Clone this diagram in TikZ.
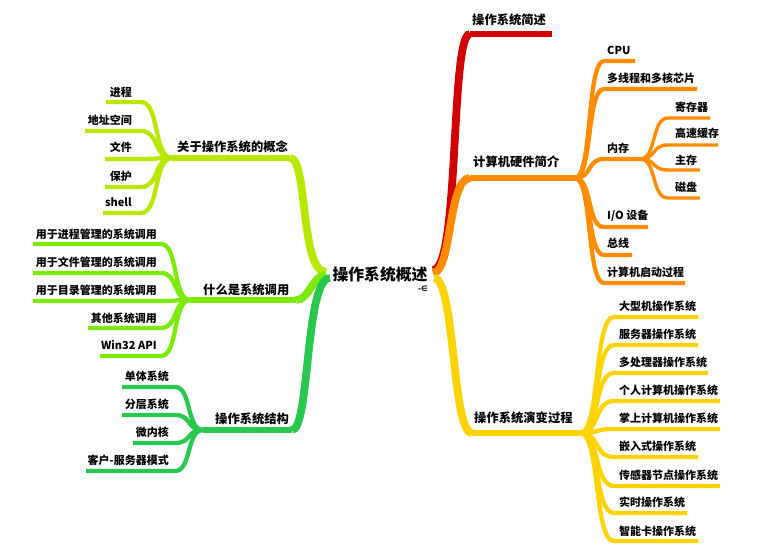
\documentclass[tikz,border=0pt]{standalone}
\usepackage{fontspec}
\setmainfont{Noto Sans CJK SC}
\newfontfamily\symfont{DejaVu Sans}
\usetikzlibrary{calc}
\definecolor{cRed}{RGB}{210,0,0}
\definecolor{cOrange}{RGB}{255,140,0}
\definecolor{cYellow}{RGB}{255,210,0}
\definecolor{cYG}{RGB}{185,232,0}
\definecolor{cLime}{RGB}{125,235,10}
\definecolor{cGreen}{RGB}{40,200,80}
\tikzset{
  kid/.style={to path={.. controls ($(\tikztostart)!0.6!(\tikztotarget|-\tikztostart)$) and ($(\tikztotarget)!0.6!(\tikztostart|-\tikztotarget)$) .. (\tikztotarget)}},
  leaf/.style={font=\bfseries\fontsize{11}{13}\selectfont, inner sep=0pt, text=black},
  branch/.style={font=\bfseries\fontsize{12.3}{14}\selectfont, inner sep=0pt, text=black},
  centre/.style={font=\bfseries\fontsize{15.8}{18}\selectfont, inner sep=0pt, text=black},
  trunk/.style={line width=7.8pt},
  mainline/.style={line width=5.8pt},
  kidline/.style={line width=4.3pt},
  gkidline/.style={line width=3.4pt},
}
\newcommand\kidR[9]{%
  \coordinate (#3a) at (#4,#5);
  \coordinate (#3b) at (#6,#5);
  \node[leaf,anchor=west] (#3) at (#7,#8) {#9};
  \draw[#1] (#2) to[kid] (#3a) -- (#3b);
}
\newcommand\kidL[9]{%
  \coordinate (#3a) at (#4,#5);
  \coordinate (#3b) at (#6,#5);
  \node[leaf,anchor=east] (#3) at (#7,#8) {#9};
  \draw[#1] (#2) to[kid] (#3a) -- (#3b);
}
\begin{document}
\begin{tikzpicture}[x=1pt,y=1pt]
\useasboundingbox (0,0) rectangle (764,554);
\fill[white] (0,0) rectangle (764,554);

\coordinate (oRr) at (433,284);
\coordinate (oRo) at (433,281);
\coordinate (oRy) at (434,276);
\coordinate (oLg) at (326,282);
\coordinate (oLl) at (326,279);
\coordinate (oLs) at (330,276);

% ---------- right side ----------
% red
\node[branch,anchor=west] (b1) at (472,534) {操作系统简述};
\coordinate (rh) at (470,520); \coordinate (rE) at (552,520);
\draw[cRed,trunk] (oRr) .. controls (460,284) and (450,520) .. (rh);
\draw[cRed,mainline] (rh) -- (rE);

% orange
\node[branch,anchor=west] (b2) at (473,392) {计算机硬件简介};
\coordinate (oc) at (470,376); \coordinate (oh) at (575,376);
\draw[cOrange,trunk] (oRo) .. controls (452,281) and (448,376) .. (oc);
\draw[cOrange,mainline] (oc) -- (oh);
\kidR{cOrange,kidline}{oh}{cpu}{604}{493}{635}{607}{504}{CPU}
\kidR{cOrange,kidline}{oh}{mt}{604}{465}{697}{607}{476}{多线程和多核芯片}
\kidR{cOrange,kidline}{oh}{mem}{604}{395}{640}{607}{406}{内存}
\kidR{cOrange,kidline}{oh}{io}{604}{327}{648}{607}{338}{I/O 设备}
\kidR{cOrange,kidline}{oh}{bus}{604}{299}{632}{607}{311}{总线}
\kidR{cOrange,kidline}{oh}{boot}{604}{271}{685}{607}{282}{计算机启动过程}
\coordinate (mh) at (640,395);
\kidR{cOrange,gkidline}{mh}{reg}{668}{436}{710}{675}{447}{寄存器}
\kidR{cOrange,gkidline}{mh}{cache}{668}{409}{718}{675}{421}{高速缓存}
\kidR{cOrange,gkidline}{mh}{ram}{668}{384}{700}{675}{394}{主存}
\kidR{cOrange,gkidline}{mh}{disk}{668}{356}{700}{675}{367}{磁盘}

% yellow
\node[branch,anchor=west] (b3) at (474,136) {操作系统演变过程};
\coordinate (yc) at (472,121); \coordinate (yh) at (580,121);
\draw[cYellow,trunk] (oRy) .. controls (455,276) and (452,121) .. (yc);
\draw[cYellow,mainline] (yc) -- (yh);
\kidR{cYellow,kidline}{yh}{y01}{614}{237}{698}{619}{248}{大型机操作系统}
\kidR{cYellow,kidline}{yh}{y02}{614}{209}{698}{619}{220}{服务器操作系统}
\kidR{cYellow,kidline}{yh}{y03}{614}{181}{708}{619}{192}{多处理器操作系统}
\kidR{cYellow,kidline}{yh}{y04}{614}{153}{720}{619}{164}{个人计算机操作系统}
\kidR{cYellow,kidline}{yh}{y05}{614}{125}{720}{619}{136}{掌上计算机操作系统}
\kidR{cYellow,kidline}{yh}{y06}{614}{97}{698}{619}{108}{嵌入式操作系统}
\kidR{cYellow,kidline}{yh}{y07}{614}{68}{720}{619}{79}{传感器节点操作系统}
\kidR{cYellow,kidline}{yh}{y08}{614}{41}{687}{619}{52}{实时操作系统}
\kidR{cYellow,kidline}{yh}{y09}{614}{13}{698}{619}{23}{智能卡操作系统}

% ---------- left side ----------
% yellow-green
\node[branch,anchor=west] (b4) at (177,407) {关于操作系统的概念};
\coordinate (gc) at (290,396); \coordinate (gh) at (172,396);
\draw[cYG,trunk] (oLg) .. controls (300,282) and (308,396) .. (gc);
\draw[cYG,mainline] (gc) -- (gh);
\kidL{cYG,kidline}{gh}{g1}{141}{452}{106}{132}{462}{进程}
\kidL{cYG,kidline}{gh}{g2}{141}{423}{85}{132}{434}{地址空间}
\kidL{cYG,kidline}{gh}{g3}{141}{395}{105}{132}{407}{文件}
\kidL{cYG,kidline}{gh}{g4}{141}{367}{105}{132}{378}{保护}
\kidL{cYG,kidline}{gh}{g5}{141}{341}{103}{132}{352}{shell}

% lime
\node[branch,anchor=west] (b5) at (203,264) {什么是系统调用};
\coordinate (lc) at (296,254); \coordinate (lh) at (190,254);
\draw[cLime,trunk] (oLl) .. controls (312,279) and (310,254) .. (lc);
\draw[cLime,mainline] (lc) -- (lh);
\kidL{cLime,kidline}{lh}{l1}{161}{310}{33}{157}{320}{用于进程管理的系统调用}
\kidL{cLime,kidline}{lh}{l2}{161}{281}{33}{157}{292}{用于文件管理的系统调用}
\kidL{cLime,kidline}{lh}{l3}{161}{253}{33}{157}{264}{用于目录管理的系统调用}
\kidL{cLime,kidline}{lh}{l4}{161}{226}{88}{157}{236}{其他系统调用}
\kidL{cLime,kidline}{lh}{l5}{161}{198}{100}{157}{209}{Win32 API}

% green
\node[branch,anchor=west] (b6) at (215,135) {操作系统结构};
\coordinate (sc) at (292,124); \coordinate (sh) at (203,124);
\draw[cGreen,trunk] (oLs) .. controls (305,276) and (310,124) .. (sc);
\draw[cGreen,mainline] (sc) -- (sh);
\kidL{cGreen,kidline}{sh}{s01}{175}{167}{122}{169}{178}{单体系统}
\kidL{cGreen,kidline}{sh}{s02}{175}{139}{122}{169}{150}{分层系统}
\kidL{cGreen,kidline}{sh}{s03}{175}{111}{133}{169}{122}{微内核}
\kidL{cGreen,kidline}{sh}{s04}{175}{83}{86}{169}{94}{客户-服务器模式}

% centre
\node[centre] (c) at (380,280) {操作系统概述};
\node[inner sep=0pt,font=\symfont\bfseries\fontsize{7.5}{8}\selectfont] (ic) at (423,265) {-∈};
\end{tikzpicture}
\end{document}
